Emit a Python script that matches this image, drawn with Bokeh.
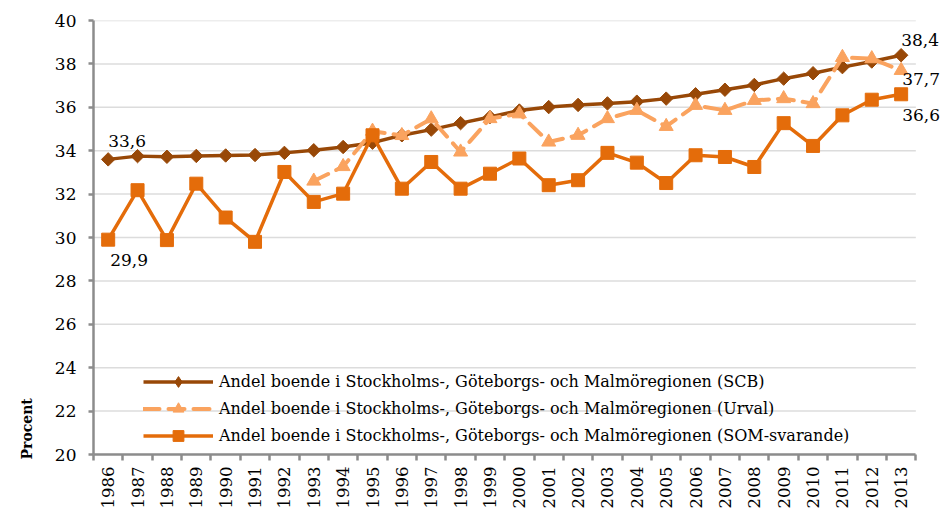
import math
from bokeh.plotting import figure
from bokeh.models import Range1d, FixedTicker, Legend, LegendItem, Label, Title
from bokeh.embed import file_html
from bokeh.resources import INLINE

years = list(range(1986, 2014))

scb = [33.6, 33.75, 33.72, 33.76, 33.78, 33.8, 33.9, 34.02, 34.17, 34.37,
       34.71, 34.97, 35.27, 35.55, 35.85, 36.01, 36.11, 36.18, 36.26, 36.4,
       36.6, 36.81, 37.03, 37.32, 37.57, 37.85, 38.11, 38.4]

urval_years = list(range(1993, 2014))
urval = [32.6, 33.27, 34.9, 34.7, 35.47, 33.94, 35.48, 35.7, 34.4, 34.71,
         35.48, 35.86, 35.12, 36.09, 35.86, 36.32, 36.4, 36.17, 38.3, 38.24, 37.7]

som = [29.9, 32.18, 29.88, 32.48, 30.92, 29.8, 33.02, 31.64, 32.02, 34.71,
       32.25, 33.48, 32.25, 32.94, 33.64, 32.41, 32.64, 33.9, 33.45, 32.51,
       33.79, 33.71, 33.25, 35.27, 34.22, 35.63, 36.35, 36.6]

series_names = [
    "Andel boende i Stockholms-, Göteborgs- och Malmöregionen (SCB)",
    "Andel boende i Stockholms-, Göteborgs- och Malmöregionen (Urval)",
    "Andel boende i Stockholms-, Göteborgs- och Malmöregionen (SOM-svarande)",
]
y_ticks = list(range(20, 41, 2))
y_label = "Procent"

C_SCB = "#984807"
C_URV = "#FAA35F"
C_SOM = "#E46C0A"
C_AX = "#8C8C8C"
FONT = "DejaVu Serif"

x_lo = years[0] - 0.5
x_hi = years[-1] + 0.5
NAN = float("nan")

p = figure(width=940, height=511, x_range=Range1d(x_lo, 2014.34),
           y_range=Range1d(20, 40), output_backend="svg", toolbar_location=None)
p.min_border_left = 92
p.min_border_right = 0
p.min_border_top = 20
p.min_border_bottom = 56
p.outline_line_color = None
p.background_fill_color = "white"
p.border_fill_color = "white"

p.xgrid.visible = False
p.ygrid.visible = False

# horizontal gridlines limited to the category span
p.segment(x0=[x_lo] * len(y_ticks), y0=y_ticks, x1=[x_hi] * len(y_ticks), y1=y_ticks,
          line_color="#DCDCDC", line_width=1.5)

yax = p.yaxis[0]
yax.ticker = FixedTicker(ticks=y_ticks)
yax.axis_line_color = C_AX
yax.axis_line_width = 2.5
yax.major_tick_line_color = C_AX
yax.major_tick_line_width = 2.5
yax.major_tick_out = 5
yax.major_tick_in = 0
yax.minor_tick_line_color = None
yax.major_label_standoff = 12
yax.major_label_text_font = FONT
yax.major_label_text_font_size = "17px"
yax.major_label_text_color = "black"

xax = p.xaxis[0]
xax.bounds = (x_lo, x_hi)
xax.ticker = FixedTicker(ticks=years, minor_ticks=[y - 0.5 for y in years] + [x_hi])
xax.axis_line_color = C_AX
xax.axis_line_width = 2.5
xax.major_tick_line_color = None
xax.major_tick_out = 0
xax.major_tick_in = 0
xax.minor_tick_line_color = C_AX
xax.minor_tick_line_width = 2.5
xax.minor_tick_out = 6
xax.minor_tick_in = 0
xax.major_label_orientation = math.pi / 2
xax.major_label_standoff = 6
xax.major_label_text_font = FONT
xax.major_label_text_font_size = "16.5px"
xax.major_label_text_color = "black"

r1l = p.line(years, scb, line_color=C_SCB, line_width=3.5)
r1m = p.scatter(years, scb, marker="square", angle=math.pi / 4, size=9.5,
                fill_color=C_SCB, line_color=C_SCB)
r2l = p.line(urval_years, urval, line_color=C_URV, line_width=4,
             line_dash="16 9", line_cap="round")
r2m = p.scatter(urval_years, urval, marker="triangle", size=14,
                fill_color=C_URV, line_color=C_URV)
r3l = p.line(years, som, line_color=C_SOM, line_width=3.5)
r3m = p.scatter(years, som, marker="square", size=13,
                fill_color=C_SOM, line_color=C_SOM)

# smaller legend-only markers (not drawn in the plot)
k1 = p.scatter(x=[NAN], y=[NAN], marker="diamond", size=13,
               fill_color=C_SCB, line_color=C_SCB)
k2 = p.scatter(x=[NAN], y=[NAN], marker="triangle", size=11,
               fill_color=C_URV, line_color=C_URV)
k3 = p.scatter(x=[NAN], y=[NAN], marker="square", size=10,
               fill_color=C_SOM, line_color=C_SOM)

legend = Legend(items=[
    LegendItem(label=series_names[0], renderers=[r1l, k1]),
    LegendItem(label=series_names[1], renderers=[r2l, k2]),
    LegendItem(label=series_names[2], renderers=[r3l, k3]),
], location=(50, 5))
legend.padding = 0
legend.margin = 0
legend.spacing = 0
legend.glyph_width = 70
legend.glyph_height = 27
legend.label_height = 27
legend.label_standoff = 6
legend.label_text_font = FONT
legend.label_text_font_size = "16px"
legend.label_text_color = "black"
legend.border_line_color = None
legend.background_fill_alpha = 0
p.add_layout(legend, "center")


def fmt(v):
    return f"{v:.1f}".replace(".", ",")


lab = dict(text_font=FONT, text_font_size="17px", text_color="black", text_align="left")
p.add_layout(Label(x=years[0], y=scb[0], text=fmt(scb[0]), x_offset=0, y_offset=12,
                   text_baseline="bottom", **lab))
p.add_layout(Label(x=years[0], y=som[0], text=fmt(som[0]), x_offset=2, y_offset=-14,
                   text_baseline="top", **lab))
p.add_layout(Label(x=years[-1], y=scb[-1], text=fmt(scb[-1]), x_offset=0, y_offset=9,
                   text_baseline="bottom", **lab))
p.add_layout(Label(x=urval_years[-1], y=urval[-1], text=fmt(urval[-1]), x_offset=1, y_offset=-3,
                   text_baseline="top", **lab))
p.add_layout(Label(x=years[-1], y=som[-1], text=fmt(som[-1]), x_offset=1, y_offset=-15,
                   text_baseline="top", **lab))

p.add_layout(Title(text=y_label, align="left", text_font=FONT, text_font_size="14px",
                   text_font_style="bold", text_color="black", standoff=33, offset=-5), "left")

open("out.html", "w").write(file_html(p, INLINE))
